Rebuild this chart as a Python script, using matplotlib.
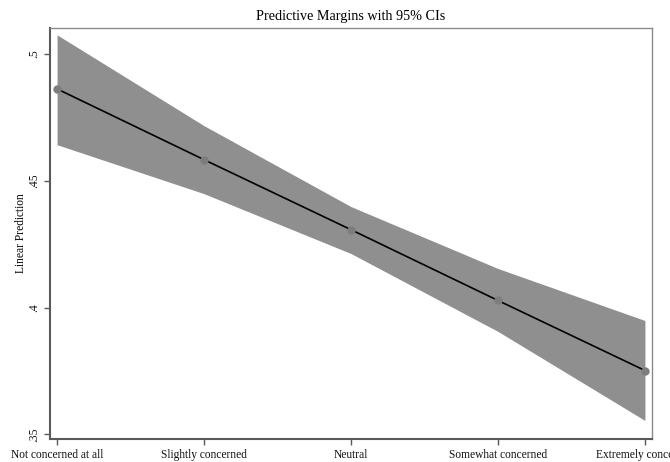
import matplotlib
matplotlib.use("Agg")
import matplotlib.pyplot as plt

categories = ["Not concerned at all", "Slightly concerned", "Neutral",
              "Somewhat concerned", "Extremely concerned"]
margin = [0.4862, 0.4583, 0.4307, 0.4028, 0.3752]
ci_low = [0.4642, 0.4449, 0.4213, 0.3906, 0.3555]
ci_high = [0.5075, 0.4717, 0.4398, 0.4154, 0.3949]
yticks = [0.35, 0.40, 0.45, 0.50]
ytick_labels = [".35", ".4", ".45", ".5"]

plt.rcParams['font.family'] = ['Liberation Serif', 'DejaVu Serif']

fig = plt.figure(figsize=(6.70, 4.62), dpi=100)
ax = fig.add_axes([50/670, 1-439/462, 602/670, 411/462])
x = list(range(len(categories)))

ax.fill_between(x, ci_low, ci_high, color="#8f8f8f", linewidth=0, zorder=1)
ax.plot(x, margin, color="black", linewidth=1.2, zorder=2)
ax.plot(x, margin, "o", color="#7d7d7d", markersize=6, markeredgewidth=0, zorder=3)

ax.set_xlim(-0.048, 4.048)
ax.set_ylim(0.3482, 0.5102)
ax.set_xticks(x)
ax.set_xticklabels(categories, fontsize=8.3)
ax.set_yticks(yticks)
ax.set_yticklabels(ytick_labels, fontsize=8.3, rotation=90, va="center")
ax.set_ylabel("Linear Prediction", fontsize=8.3)
ax.yaxis.set_label_coords(-23/602, 0.5)
ax.set_title("Predictive Margins with 95% CIs", fontsize=10.2, pad=6)

for side in ["left", "bottom"]:
    ax.spines[side].set_color("#5a5a5a")
    ax.spines[side].set_linewidth(1.5)
for side in ["top", "right"]:
    ax.spines[side].set_color("#8a8a8a")
    ax.spines[side].set_linewidth(1.0)
ax.tick_params(axis="both", direction="out", length=4, width=1, color="#5a5a5a",
               labelcolor="#111111")
ax.tick_params(axis="x", pad=3.5)
ax.tick_params(axis="y", pad=3)

fig.savefig("out.png", dpi=100)
